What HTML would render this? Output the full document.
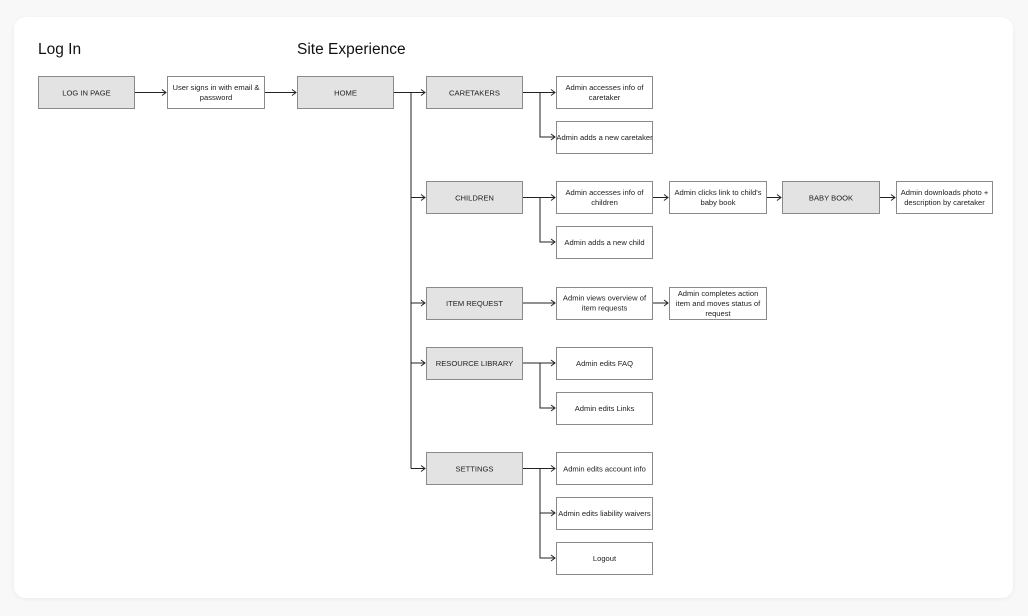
<!DOCTYPE html>
<html><head><meta charset="utf-8"><style>
html,body{margin:0;padding:0;background:#f8f8f8;width:1028px;height:616px;overflow:hidden}
svg{display:block}
text{font-family:"Liberation Sans",sans-serif}
</style></head><body>
<svg width="1028" height="616" viewBox="0 0 1028 616" xmlns="http://www.w3.org/2000/svg">
<defs>
<marker id="a" markerWidth="6" markerHeight="8" refX="5" refY="4" orient="auto" markerUnits="userSpaceOnUse">
<path d="M1,1 L5,4 L1,7" fill="none" stroke="#222" stroke-width="1"/>
</marker>
<filter id="s" x="-5%" y="-5%" width="110%" height="110%"><feDropShadow dx="0" dy="1" stdDeviation="2" flood-color="#000" flood-opacity="0.05"/></filter>
</defs>
<rect x="14" y="17" width="999" height="581" rx="12" fill="#fff" filter="url(#s)"/>
<text x="38" y="54" font-size="15.5" fill="#111">Log In</text>
<text x="297" y="54" font-size="15.5" fill="#111">Site Experience</text>
<g stroke="#222" stroke-width="1" fill="none">
<path d="M135 92.5H166" marker-end="url(#a)"/>
<path d="M265 92.5H296" marker-end="url(#a)"/>
<path d="M394 92.5H425" marker-end="url(#a)"/>
<path d="M411 92.5V468.5"/>
<path d="M411 197.5H425" marker-end="url(#a)"/>
<path d="M411 303H425" marker-end="url(#a)"/>
<path d="M411 363H425" marker-end="url(#a)"/>
<path d="M411 468.5H425" marker-end="url(#a)"/>
<path d="M523 92.5H555" marker-end="url(#a)"/>
<path d="M540 92.5V137H555" marker-end="url(#a)"/>
<path d="M523 197.5H555" marker-end="url(#a)"/>
<path d="M540 197.5V242H555" marker-end="url(#a)"/>
<path d="M653 197.5H668" marker-end="url(#a)"/>
<path d="M767 197.5H781" marker-end="url(#a)"/>
<path d="M880 197.5H895" marker-end="url(#a)"/>
<path d="M523 303H555" marker-end="url(#a)"/>
<path d="M653 303H668" marker-end="url(#a)"/>
<path d="M523 363H555" marker-end="url(#a)"/>
<path d="M540 363V408H555" marker-end="url(#a)"/>
<path d="M523 468.5H555" marker-end="url(#a)"/>
<path d="M540 468.5V558H555" marker-end="url(#a)"/>
<path d="M540 513H555" marker-end="url(#a)"/>
</g>
<g stroke="#8a8a8a" stroke-width="1">
<rect x="38.5" y="76.5" width="96" height="32" fill="#e3e3e3"/>
<rect x="167.5" y="76.5" width="97" height="32" fill="#fff"/>
<rect x="297.5" y="76.5" width="96" height="32" fill="#e3e3e3"/>
<rect x="426.5" y="76.5" width="96" height="32" fill="#e3e3e3"/>
<rect x="426.5" y="181.5" width="96" height="32" fill="#e3e3e3"/>
<rect x="426.5" y="287.5" width="96" height="32" fill="#e3e3e3"/>
<rect x="426.5" y="347.5" width="96" height="32" fill="#e3e3e3"/>
<rect x="426.5" y="452.5" width="96" height="32" fill="#e3e3e3"/>
<rect x="556.5" y="76.5" width="96" height="32" fill="#fff"/>
<rect x="556.5" y="121.5" width="96" height="32" fill="#fff"/>
<rect x="556.5" y="181.5" width="96" height="32" fill="#fff"/>
<rect x="556.5" y="226.5" width="96" height="32" fill="#fff"/>
<rect x="556.5" y="287.5" width="96" height="32" fill="#fff"/>
<rect x="556.5" y="347.5" width="96" height="32" fill="#fff"/>
<rect x="556.5" y="392.5" width="96" height="32" fill="#fff"/>
<rect x="556.5" y="452.5" width="96" height="32" fill="#fff"/>
<rect x="556.5" y="497.5" width="96" height="32" fill="#fff"/>
<rect x="556.5" y="542.5" width="96" height="32" fill="#fff"/>
<rect x="669.5" y="181.5" width="97" height="32" fill="#fff"/>
<rect x="669.5" y="287.5" width="97" height="32" fill="#fff"/>
<rect x="782.5" y="181.5" width="97" height="32" fill="#e3e3e3"/>
<rect x="896.5" y="181.5" width="96" height="32" fill="#fff"/>
</g>
<g font-size="7.6" fill="#222" text-anchor="middle">
<text x="86.5" y="95.5">LOG IN PAGE</text>
<text x="216" y="90">User signs in with email &amp;</text>
<text x="216" y="100">password</text>
<text x="345.5" y="95.5">HOME</text>
<text x="474.5" y="95.5">CARETAKERS</text>
<text x="474.5" y="200.5">CHILDREN</text>
<text x="474.5" y="306">ITEM REQUEST</text>
<text x="474.5" y="366">RESOURCE LIBRARY</text>
<text x="474.5" y="471.5">SETTINGS</text>
<text x="604.5" y="90">Admin accesses info of</text>
<text x="604.5" y="100">caretaker</text>
<text x="604.5" y="140">Admin adds a new caretaker</text>
<text x="604.5" y="195">Admin accesses info of</text>
<text x="604.5" y="205">children</text>
<text x="604.5" y="245">Admin adds a new child</text>
<text x="604.5" y="300.5">Admin views overview of</text>
<text x="604.5" y="310.5">item requests</text>
<text x="604.5" y="366">Admin edits FAQ</text>
<text x="604.5" y="411">Admin edits Links</text>
<text x="604.5" y="471.5">Admin edits account info</text>
<text x="604.5" y="516">Admin edits liability waivers</text>
<text x="604.5" y="561">Logout</text>
<text x="718" y="195">Admin clicks link to child's</text>
<text x="718" y="205">baby book</text>
<text x="718" y="296">Admin completes action</text>
<text x="718" y="306">item and moves status of</text>
<text x="718" y="316">request</text>
<text x="831" y="200.5">BABY BOOK</text>
<text x="944.5" y="195">Admin downloads photo +</text>
<text x="944.5" y="205">description by caretaker</text>
</g>
</svg>
</body></html>
